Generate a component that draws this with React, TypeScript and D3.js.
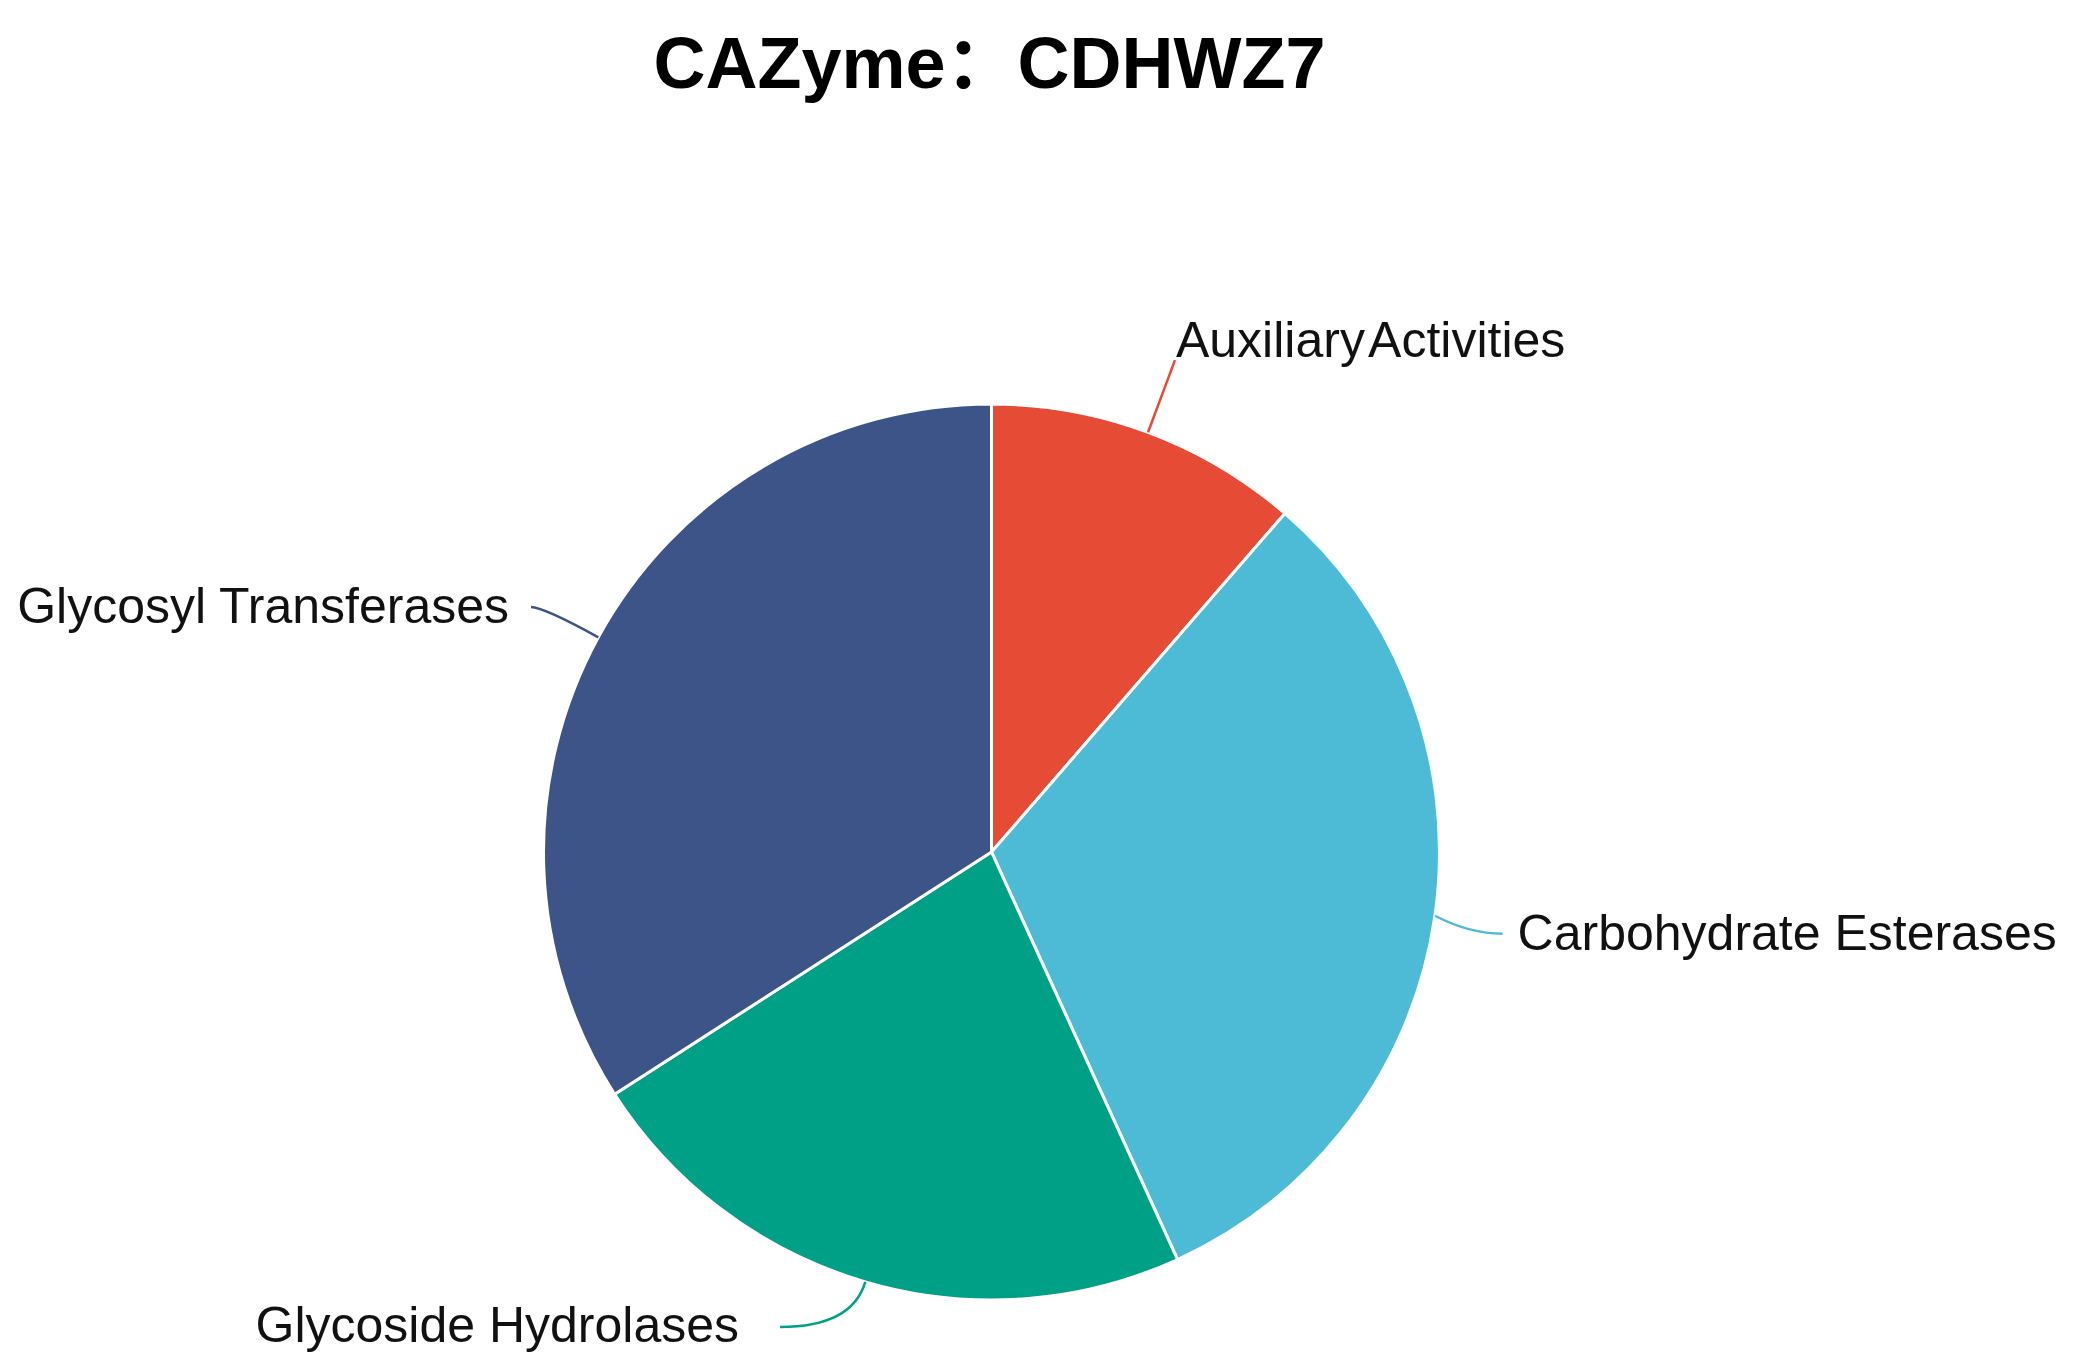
import React from "react";
import * as d3 from "d3";

const categories = ["Auxiliary Activities", "Carbohydrate Esterases", "Glycoside Hydrolases", "Glycosyl Transferases"];
const counts = [5, 14, 10, 15];
const colors = ["#E64B35", "#4DBBD5", "#00A087", "#3C5488"];
const titleText = "CAZyme：CDHWZ7";

// label line layout: radial extension, horizontal extension, vertical shift, text offsets
const labelLayout = [
  { l1: 77, l2: 0, dy: 0, tx: 1, ty: -16, ws: -8 },
  { l1: 35, l2: 33, dy: 13, tx: 15, ty: 3, ws: 0 },
  { l1: 47, l2: 72, dy: 0, tx: -41, ty: 2, ws: 0 },
  { l1: 63, l2: 12, dy: 0, tx: -22, ty: 3, ws: 0 },
];

const W = 2076;
const H = 1372;
const cx = 991.5;
const cy = 852;
const R = 448;
const FONT = "'Liberation Sans', Arial, 'Noto Sans CJK SC', sans-serif";

export default function App() {
  const data = categories.map((c, i) => ({ name: c, value: counts[i], color: colors[i] }));
  const pie = d3.pie<any>().value((d: any) => d.value).sort(null).startAngle(0).endAngle(2 * Math.PI);
  const arcs = pie(data);
  const arcGen = d3.arc<any>().innerRadius(0).outerRadius(R);

  return (
    <svg width={W} height={H} style={{ position: "absolute", left: 0, top: 0, background: "#fff" }}>
      <text x={cx - 2} y={88} textAnchor="middle" fontFamily={FONT} fontWeight="bold" fontSize={72} fill="#000">
        {titleText}
      </text>
      <g transform={`translate(${cx},${cy})`}>
        {arcs.map((a, i) => (
          <path key={i} d={arcGen(a) as string} fill={a.data.color} stroke="#fff" strokeWidth={3} strokeLinejoin="round" />
        ))}
        {arcs.map((a, i) => {
          const mid = (a.startAngle + a.endAngle) / 2;
          const sx = Math.sin(mid);
          const sy = -Math.cos(mid);
          const L = labelLayout[i];
          const p0 = [R * sx, R * sy];
          const p1 = [(R + L.l1) * sx, (R + L.l1) * sy + L.dy];
          const side = sx >= 0 ? 1 : -1;
          const p2 = [p1[0] + side * L.l2, p1[1]];
          const path = d3.path();
          path.moveTo(p0[0], p0[1]);
          if (L.l2 > 0) {
            path.quadraticCurveTo(p1[0], p1[1], p2[0], p2[1]);
          } else {
            path.lineTo(p1[0], p1[1]);
          }
          return (
            <g key={"l" + i}>
              <path d={path.toString()} fill="none" stroke={a.data.color} strokeWidth={2.5} />
              <text
                x={p2[0] + L.tx}
                y={p2[1] + L.ty}
                textAnchor={side > 0 ? "start" : "end"}
                dominantBaseline="middle"
                fontFamily={FONT}
                fontSize={50}
                wordSpacing={L.ws}
                fill="#111"
              >
                {a.data.name}
              </text>
            </g>
          );
        })}
      </g>
    </svg>
  );
}
